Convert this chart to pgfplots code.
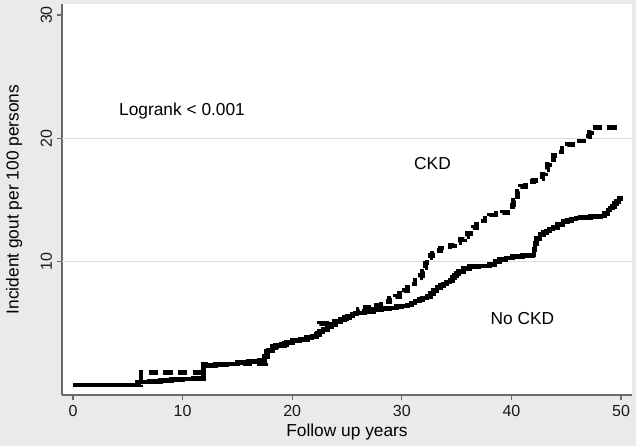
\documentclass[border=0pt]{standalone}
\usepackage{pgfplots}
\pgfplotsset{compat=1.18}
\usepackage{fontspec}
\setmainfont{Liberation Sans}
\definecolor{bgc}{HTML}{EAEAEA}
\definecolor{gridc}{HTML}{DCDCDC}
\definecolor{axc}{HTML}{6A6A6A}
\begin{document}
\begin{tikzpicture}
\fill[bgc] (0,0) rectangle (477pt,334.5pt);
\begin{axis}[
  at={(46.5pt,38.25pt)}, anchor=south west,
  scale only axis, width=427.5pt, height=293.25pt,
  xmin=-1, xmax=51, ymin=-0.81, ymax=30.9,
  axis x line*=bottom, axis y line*=left,
  axis line style={axc, line width=1pt, -},
  axis background/.style={fill=white},
  xtick={0,10,20,30,40,50},
  ytick={10,20,30},
  tick align=outside,
  major tick length=4pt,
  tick style={axc, line width=0.9pt},
  /pgf/number format/assume math mode=true,
  tick label style={font=\fontsize{12}{14}\selectfont, text=black!90},
  yticklabel style={rotate=90, anchor=south},
  xlabel={Follow up years},
  ylabel={Incident gout per 100 persons},
  label style={font=\fontsize{13}{15}\selectfont, text=black},
  x label style={at={(axis description cs:0.5,-0.095)}, anchor=center},
  y label style={at={(axis description cs:-0.084,0.5)}, anchor=center},
  clip=false,
]
\draw[gridc, line width=0.8pt] (axis cs:-1,10) -- (axis cs:51,10);
\draw[gridc, line width=0.8pt] (axis cs:-1,20) -- (axis cs:51,20);
% No CKD
\addplot[const plot, black, line width=3.5pt] coordinates {
(0,0) (5.9,0.25) (7,0.3) (8,0.35) (9,0.45) (10,0.5) (11,0.55) (11.9,1.6) (13,1.65)
(14,1.7) (15,1.8) (16,1.9) (17,2.0) (17.5,2.3) (17.8,2.8) (18.2,3.1) (18.6,3.2) (19,3.3)
(19.5,3.45) (20,3.6) (20.7,3.7) (21.4,3.8) (21.8,3.95) (22.2,4.1) (22.5,4.3) (22.8,4.5)
(23.2,4.7) (23.6,4.9) (24.0,5.1) (24.4,5.3) (24.8,5.45) (25.2,5.6) (25.5,5.75) (25.9,5.85)
(26.6,5.95) (27.4,6.1) (28.2,6.2) (28.9,6.25) (29.5,6.35) (30,6.4) (30.5,6.5) (30.9,6.65)
(31.2,6.8) (31.6,6.95) (31.9,7.05) (32.3,7.2) (32.6,7.4) (32.9,7.65) (33.2,7.9) (33.5,8.05)
(33.8,8.2) (34.1,8.35) (34.4,8.5) (34.6,8.7) (34.8,8.9) (35.0,9.05) (35.2,9.2) (35.6,9.45)
(36.2,9.6) (37.0,9.65) (38.0,9.75) (38.5,10.0) (38.9,10.2) (39.5,10.3) (40.1,10.4)
(41.0,10.5) (41.9,10.55) (42.05,11.0) (42.15,11.5) (42.3,11.9) (42.6,12.2) (42.9,12.35)
(43.2,12.5) (43.5,12.65) (43.8,12.8) (44.2,13.0) (44.7,13.25) (45.1,13.35) (45.5,13.45)
(45.9,13.55) (46.3,13.6) (47.2,13.65) (48.1,13.7) (48.5,13.9) (48.8,14.2) (49.0,14.35)
(49.2,14.5) (49.4,14.7) (49.6,14.9) (49.8,15.1) (50,15.3)
};
% CKD
\addplot[const plot, black, line width=3.5pt, dash pattern=on 7pt off 4pt] coordinates {
(0,0) (6.2,1.0) (11.9,1.7) (17.6,3.0) (18.5,3.2) (19.3,3.4) (20,3.6) (21,3.9) (22,4.2)
(22.5,5.0) (23.5,5.2) (24.3,5.4) (25,5.6) (25.5,5.85) (26,6.1) (26.7,6.3) (27.4,6.5)
(28.1,6.75) (28.9,7.05) (29.4,7.2) (29.8,7.4) (30.2,7.65) (30.5,7.9) (30.8,8.2) (31.2,8.5)
(31.5,8.7) (31.7,8.9) (31.9,9.2) (32.0,9.5) (32.15,9.9) (32.3,10.3) (32.6,10.5) (32.8,10.7)
(33.2,10.9) (33.5,11.1) (34.0,11.2) (34.4,11.3) (34.8,11.55) (35.3,11.8) (35.7,12.05)
(36.0,12.3) (36.3,12.55) (36.5,12.8) (36.8,13.05) (37.2,13.3) (37.6,13.55) (38.0,13.8)
(38.6,13.9) (39.2,14.0) (39.7,14.3) (40.1,14.6) (40.2,14.95) (40.3,15.3) (40.55,15.7)
(40.8,16.1) (41.3,16.5) (42.0,16.6) (42.6,16.7) (42.85,17.1) (43.1,17.5) (43.3,17.9)
(43.5,18.3) (43.85,18.6) (44.2,18.9) (44.6,19.2) (45.1,19.5) (45.6,19.8) (46.9,19.8)
(47.0,20.15) (47.1,20.5) (47.3,20.9) (50,20.9)
};
\node[font=\fontsize{13}{15}\selectfont] at (axis cs:9.95,22.2) {Logrank < 0.001};
\node[font=\fontsize{13}{15}\selectfont] at (axis cs:32.8,18.0) {CKD};
\node[font=\fontsize{13}{15}\selectfont] at (axis cs:41,5.4) {No CKD};
\end{axis}
\pgfresetboundingbox
\path (0,0) rectangle (477pt,334.5pt);
\end{tikzpicture}
\end{document}
